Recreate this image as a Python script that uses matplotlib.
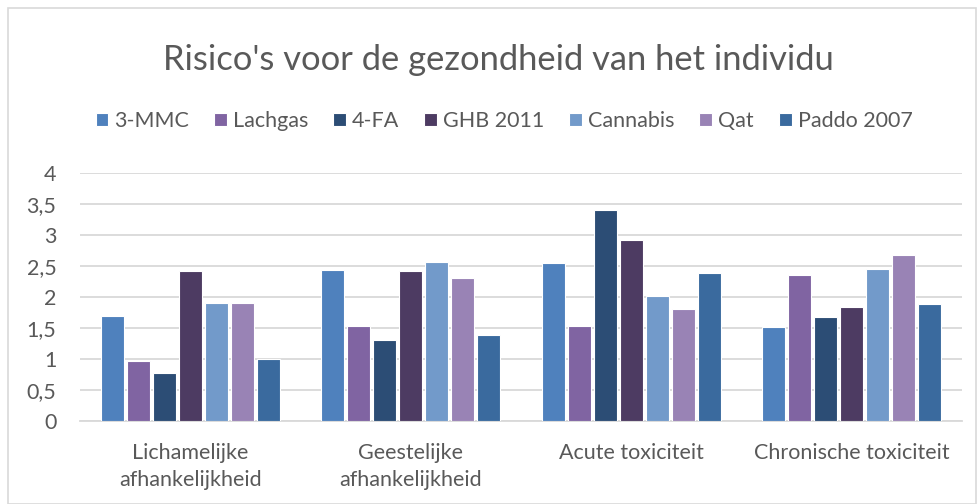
import numpy as np
import matplotlib.pyplot as plt
from matplotlib.patches import Rectangle

plt.rcParams['font.family'] = ['Lato', 'DejaVu Sans']

categories = ['Lichamelijke\nafhankelijkheid', 'Geestelijke\nafhankelijkheid',
              'Acute toxiciteit', 'Chronische toxiciteit']
series = ['3-MMC', 'Lachgas', '4-FA', 'GHB 2011', 'Cannabis', 'Qat', 'Paddo 2007']
values_3mmc = [1.70, 2.43, 2.55, 1.51]
values_lachgas = [0.97, 1.54, 1.54, 2.35]
values_4fa = [0.78, 1.30, 3.41, 1.67]
values_ghb = [2.42, 2.42, 2.92, 1.84]
values_cannabis = [1.90, 2.56, 2.01, 2.45]
values_qat = [1.91, 2.31, 1.80, 2.67]
values_paddo = [1.00, 1.38, 2.38, 1.89]
colors = ['#4F81BD', '#8064A2', '#2C4D75', '#4D3B62', '#729ACA', '#9983B5', '#3A6A9E']
yticks = [0, 0.5, 1, 1.5, 2, 2.5, 3, 3.5, 4]
ytick_labels = ['0', '0,5', '1', '1,5', '2', '2,5', '3', '3,5', '4']

all_values = [values_3mmc, values_lachgas, values_4fa, values_ghb,
              values_cannabis, values_qat, values_paddo]

text_color = '#595959'
Fig = plt.figure(figsize=(9.78, 5.04), dpi=100)
Ax = Fig.add_axes([80/978, 1-421/504, 882/978, 248/504])

index = np.arange(len(categories))
step = 0.118
bar_width = 0.105
for i, (name, vals) in enumerate(zip(series, all_values)):
    offs = (i - 3) * step
    Ax.bar(index + offs, vals, bar_width, color=colors[i], label=name,
           edgecolor='white', linewidth=0.8, zorder=3)

Ax.set_xlim(-0.5, len(categories) - 0.5)
Ax.set_ylim(0, 4)
Ax.set_yticks(yticks)
Ax.set_yticklabels(ytick_labels)
Ax.set_xticks(index)
Ax.set_xticklabels(categories, linespacing=1.42)
Ax.tick_params(axis='both', length=0, labelsize=15.5, colors=text_color)
Ax.tick_params(axis='x', pad=16)
Ax.tick_params(axis='y', pad=17)
Ax.grid(axis='y', color='#D9D9D9', linewidth=1.3, zorder=0)
for s in ['top', 'right', 'left']:
    Ax.spines[s].set_visible(False)
Ax.spines['bottom'].set_color('#D9D9D9')
Ax.spines['bottom'].set_linewidth(1.3)

Fig.text(0.5 + 9/978, 1-60/504, "Risico's voor de gezondheid van het individu",
         ha='center', va='center', fontsize=24.8, color=text_color)
Fig.legend(loc='center', bbox_to_anchor=(0.5 + 15/978, 1-121/504), ncol=7, frameon=False,
           fontsize=15.5, labelcolor=text_color, handlelength=0.6, handleheight=0.6,
           handletextpad=0.28, columnspacing=1.15)

Fig.patches.append(Rectangle((8/978, 0), 968/978, 1-8/504, transform=Fig.transFigure,
                             fill=False, edgecolor='#D9D9D9', linewidth=1.2))

Fig.savefig('out.png', dpi=100)
